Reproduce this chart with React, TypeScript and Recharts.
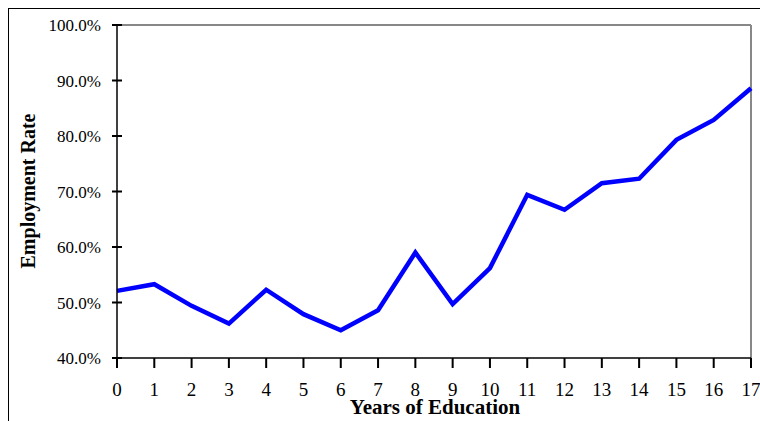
import React from 'react';
import { LineChart, Line, XAxis, YAxis, ReferenceLine } from 'recharts';

const years = [0, 1, 2, 3, 4, 5, 6, 7, 8, 9, 10, 11, 12, 13, 14, 15, 16, 17];
const rates = [0.521, 0.533, 0.494, 0.462, 0.523, 0.479, 0.450, 0.486, 0.590, 0.497, 0.562, 0.694, 0.667, 0.715, 0.723, 0.793, 0.829, 0.886];
const yTicks = [0.4, 0.5, 0.6, 0.7, 0.8, 0.9, 1.0];
const xTicks = years;
const xLabel = 'Years of Education';
const yLabel = 'Employment Rate';

const data = years.map((y, i) => ({ year: y, rate: rates[i] }));

const FONT = '"Liberation Serif", "Times New Roman", serif';

const renderYTick = (props: any) => {
  const { x, y, payload } = props;
  return (
    <g key={'y' + payload.value}>
      <rect x={x + 11} y={y - 1} width={10} height={2} fill="#000" />
      <text x={x} y={y} dy={6} textAnchor="end" fontFamily={FONT} fontSize={17} fill="#000">
        {(payload.value * 100).toFixed(1) + '%'}
      </text>
    </g>
  );
};

const renderXTick = (props: any) => {
  const { x, y, payload } = props;
  return (
    <g key={'x' + payload.value}>
      <rect x={x - 1} y={y - 15} width={2} height={10} fill="#000" />
      <text x={x} y={y + 23} textAnchor="middle" fontFamily={FONT} fontSize={19} fill="#000">
        {String(payload.value)}
      </text>
    </g>
  );
};

export default function App() {
  return (
    <div style={{ width: 760, height: 421, position: 'relative', overflow: 'hidden', background: '#fff' }}>
      <style>{'html,body{margin:0;padding:0;overflow:hidden;}'}</style>
      <div
        style={{
          position: 'absolute',
          left: 8,
          top: 8,
          width: 760,
          height: 421,
          borderTop: '1px solid #000',
          borderLeft: '1px solid #000',
          boxSizing: 'border-box',
        }}
      >
        <div style={{ position: 'absolute', left: 0, top: 0 }}>
          <LineChart width={751} height={412} data={data} margin={{ top: 16, right: 9, left: 38, bottom: 23 }}>
            <XAxis
              dataKey="year"
              type="number"
              domain={[0, 17]}
              ticks={xTicks}
              interval={0}
              height={40}
              tickSize={5}
              tickMargin={10}
              tickLine={false}
              stroke="#000"
              strokeWidth={1.5}
              tick={renderXTick}
              label={() => (
                <text x={426} y={405} textAnchor="middle" fontFamily={FONT} fontSize={21} fontWeight="bold" fill="#000">
                  {xLabel}
                </text>
              )}
            />
            <YAxis
              type="number"
              domain={[0.4, 1.0]}
              ticks={yTicks}
              interval={0}
              width={70}
              tickSize={5}
              tickMargin={11}
              tickLine={false}
              stroke="#000"
              strokeWidth={1.5}
              tick={renderYTick}
              label={() => (
                <text
                  x={19}
                  y={182}
                  transform="rotate(-90 19 182)"
                  textAnchor="middle"
                  dominantBaseline="central"
                  fontFamily={FONT}
                  fontSize={20}
                  fontWeight="bold"
                  fill="#000"
                >
                  {yLabel}
                </text>
              )}
            />
            <ReferenceLine y={1.0} stroke="#888" strokeWidth={2} />
            <ReferenceLine x={17} stroke="#888" strokeWidth={2} />
            <Line
              type="linear"
              dataKey="rate"
              stroke="#0000FF"
              strokeWidth={4.5}
              dot={false}
              isAnimationActive={false}
            />
          </LineChart>
        </div>
      </div>
    </div>
  );
}
